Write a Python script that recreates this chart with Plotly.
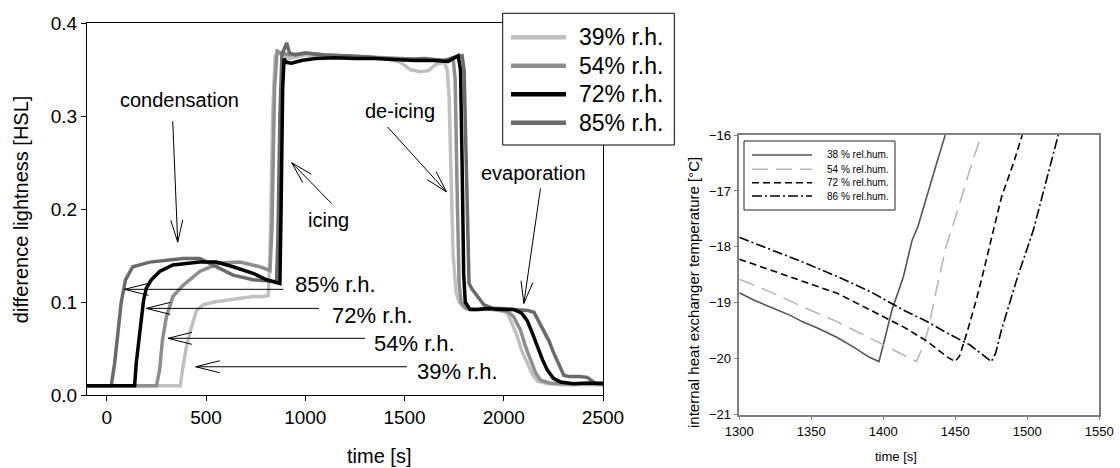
import plotly.graph_objects as go

W, H = 1120, 468
FONT = "Liberation Sans, Arial, sans-serif"

# ---------------- left chart data: difference lightness [HSL] vs time [s]
rh_names = ["39% r.h.", "54% r.h.", "72% r.h.", "85% r.h."]
rh_colors = ["#c0c0c0", "#8e8e8e", "#000000", "#6a6a6a"]

t39 = [-100, 370, 381, 401, 426, 452, 485, 540, 603, 670, 737, 790, 813, 822, 835, 848, 870, 920, 1000,
       1100, 1200, 1300, 1400, 1480, 1530, 1580, 1620, 1660, 1700, 1715, 1725, 1735, 1745, 1760, 1775,
       1800, 1850, 1900, 1950, 2000, 2017, 2040, 2068, 2090, 2118, 2145, 2170, 2220, 2300, 2400, 2500]
v39 = [0.010, 0.010, 0.027, 0.052, 0.073, 0.091, 0.097, 0.100, 0.102, 0.104, 0.106, 0.106, 0.107, 0.150,
       0.300, 0.365, 0.368, 0.362, 0.366, 0.365, 0.364, 0.363, 0.362, 0.358, 0.350, 0.348, 0.349, 0.356,
       0.358, 0.350, 0.320, 0.230, 0.150, 0.110, 0.100, 0.094, 0.092, 0.092, 0.092, 0.090, 0.088, 0.078,
       0.063, 0.048, 0.034, 0.022, 0.015, 0.012, 0.011, 0.011, 0.011]

t54 = [-100, 250, 266, 280, 300, 333, 384, 468, 569, 670, 771, 822, 832, 845, 858, 880, 920, 1000, 1100,
       1200, 1300, 1400, 1500, 1600, 1700, 1745, 1755, 1765, 1775, 1785, 1810, 1850, 1900, 1950, 2000,
       2020, 2050, 2084, 2110, 2134, 2160, 2185, 2230, 2300, 2400, 2500]
v54 = [0.010, 0.010, 0.027, 0.059, 0.084, 0.106, 0.118, 0.133, 0.142, 0.143, 0.138, 0.134, 0.180, 0.330,
       0.370, 0.368, 0.366, 0.368, 0.366, 0.365, 0.364, 0.363, 0.362, 0.361, 0.360, 0.362, 0.340, 0.220,
       0.120, 0.100, 0.093, 0.092, 0.093, 0.092, 0.091, 0.090, 0.084, 0.070, 0.052, 0.038, 0.024, 0.016,
       0.013, 0.012, 0.012, 0.012]

t72 = [-100, 140, 148, 162, 174, 185, 199, 224, 266, 333, 468, 552, 636, 737, 805, 872, 878, 886, 893,
       905, 930, 980, 1050, 1150, 1250, 1350, 1450, 1550, 1650, 1720, 1770, 1782, 1790, 1798, 1806, 1830,
       1870, 1920, 2000, 2050, 2090, 2118, 2145, 2169, 2195, 2219, 2250, 2286, 2350, 2420, 2500]
v72 = [0.010, 0.010, 0.034, 0.059, 0.084, 0.102, 0.115, 0.124, 0.133, 0.140, 0.143, 0.143, 0.138, 0.131,
       0.124, 0.120, 0.200, 0.330, 0.362, 0.358, 0.357, 0.360, 0.362, 0.363, 0.362, 0.362, 0.361, 0.360,
       0.360, 0.359, 0.365, 0.350, 0.250, 0.130, 0.100, 0.092, 0.092, 0.093, 0.092, 0.092, 0.088, 0.080,
       0.066, 0.052, 0.038, 0.027, 0.018, 0.014, 0.012, 0.013, 0.012]

t85 = [-100, 22, 39, 56, 72, 94, 131, 216, 300, 384, 468, 552, 636, 737, 855, 862, 872, 882, 895, 906,
       920, 950, 1000, 1100, 1200, 1300, 1400, 1500, 1600, 1700, 1760, 1790, 1800, 1808, 1816, 1825,
       1840, 1870, 1900, 1950, 2000, 2050, 2120, 2152, 2175, 2202, 2228, 2252, 2278, 2303, 2330, 2380,
       2420, 2440, 2460, 2500]
v85 = [0.010, 0.010, 0.034, 0.070, 0.099, 0.124, 0.138, 0.143, 0.145, 0.147, 0.147, 0.138, 0.129, 0.124,
       0.122, 0.170, 0.300, 0.366, 0.372, 0.379, 0.368, 0.366, 0.368, 0.366, 0.365, 0.364, 0.362, 0.361,
       0.362, 0.360, 0.364, 0.365, 0.350, 0.280, 0.180, 0.120, 0.114, 0.105, 0.097, 0.093, 0.093, 0.092,
       0.091, 0.089, 0.080, 0.070, 0.058, 0.045, 0.032, 0.021, 0.020, 0.020, 0.019, 0.016, 0.013, 0.013]

left_times = [t39, t54, t72, t85]
left_values = [v39, v54, v72, v85]
draw_order = [0, 1, 3, 2]  # black on top

left_xticks = [0, 500, 1000, 1500, 2000, 2500]
left_yticks = [0.0, 0.1, 0.2, 0.3, 0.4]

# ---------------- right chart data: internal heat exchanger temperature [°C]
hum_names = ["38 % rel.hum.", "54 % rel.hum.", "72 % rel.hum.", "86 % rel.hum."]
hum_colors = ["#555555", "#b8b8b8", "#000000", "#000000"]
hum_dash = ["solid", "16px,8px", "7px,4px", "10px,3px,2px,3px"]

r38_t = [1300, 1310, 1321, 1335, 1344, 1355, 1368, 1380, 1390, 1397, 1400, 1406, 1414, 1420, 1424, 1430, 1437, 1443]
r38_T = [-18.82, -18.95, -19.07, -19.22, -19.34, -19.46, -19.62, -19.80, -19.97, -20.05, -19.75, -19.13,
         -18.53, -17.88, -17.64, -17.10, -16.51, -16.0]
r54_t = [1300, 1321, 1344, 1368, 1390, 1410, 1423, 1428, 1431, 1437, 1443.5, 1451, 1460, 1468]
r54_T = [-18.58, -18.80, -19.07, -19.34, -19.62, -19.88, -20.05, -19.75, -19.49, -18.75, -18.0, -17.4,
         -16.63, -16.0]
r72_t = [1300, 1322, 1344, 1368, 1391, 1414, 1430, 1445, 1450, 1453, 1458.6, 1464, 1469.5, 1474,
         1477.6, 1482.2, 1490.3, 1496.5]
r72_T = [-18.22, -18.42, -18.62, -18.83, -19.13, -19.43, -19.68, -19.98, -20.05, -19.95, -19.49, -19.0,
         -18.45, -17.95, -17.58, -17.10, -16.51, -16.0]
r86_t = [1300, 1322, 1344, 1368, 1391, 1414, 1430, 1445, 1460, 1475, 1478, 1482, 1492.6, 1504.2, 1513.5, 1521.5]
r86_T = [-17.83, -18.05, -18.27, -18.53, -18.80, -19.13, -19.33, -19.55, -19.75, -20.05, -19.9, -19.49,
         -18.59, -17.7, -16.81, -16.0]

right_times = [r38_t, r54_t, r72_t, r86_t]
right_values = [r38_T, r54_T, r72_T, r86_T]
right_xticks = [1300, 1350, 1400, 1450, 1500, 1550]
right_yticks = [-21, -20, -19, -18, -17, -16]

# ---------------- geometry (pixels)
L_X0, L_X1, L_Y0, L_Y1 = 87, 603, 23.3, 395      # left plot area
R_X0, R_X1, R_Y0, R_Y1 = 739.3, 1099.3, 135, 414.7  # right plot area
L_XR, L_YR = [-100, 2500], [0, 0.4]
R_XR, R_YR = [1300, 1550], [-21, -16]


def px(x):
    return x / W


def py(y):
    return 1 - y / H


fig = go.Figure()

for i in draw_order:
    fig.add_trace(go.Scatter(x=left_times[i], y=left_values[i], mode="lines", name=rh_names[i],
                             line=dict(color=rh_colors[i], width=3.5), xaxis="x", yaxis="y",
                             showlegend=False))

for i in range(4):
    fig.add_trace(go.Scatter(x=right_times[i], y=right_values[i], mode="lines", name=hum_names[i],
                             line=dict(color=hum_colors[i], width=1.6, dash=hum_dash[i]),
                             xaxis="x2", yaxis="y2", showlegend=False))

shapes = []
annotations = []

# --- arrows in the left chart (data coordinates), V heads computed in pixel space
sx = (L_X1 - L_X0) / (L_XR[1] - L_XR[0])
sy = (L_Y1 - L_Y0) / (L_YR[1] - L_YR[0])


def arrow(tail, tip, head_len=22, head_w=6):
    shapes.append(dict(type="line", xref="x", yref="y", x0=tail[0], y0=tail[1], x1=tip[0], y1=tip[1],
                       line=dict(color="black", width=1)))
    dx = (tip[0] - tail[0]) * sx
    dy = -(tip[1] - tail[1]) * sy
    n = (dx * dx + dy * dy) ** 0.5
    ux, uy = dx / n, dy / n
    for s in (1, -1):
        hx = -ux * head_len + s * (-uy) * head_w
        hy = -uy * head_len + s * ux * head_w
        shapes.append(dict(type="line", xref="x", yref="y", x0=tip[0], y0=tip[1],
                           x1=tip[0] + hx / sx, y1=tip[1] - hy / sy,
                           line=dict(color="black", width=1)))


phase_labels = ["condensation", "icing", "de-icing", "evaporation"]
phase_text_pos = [(368, 0.318), (1115, 0.188), (1478, 0.306), (2150, 0.2387)]
phase_tail = [(332, 0.2946), (1133, 0.206), (1414, 0.2885), (2185, 0.2223)]
phase_tip = [(357, 0.1645), (931, 0.250), (1711, 0.2186), (2101, 0.0986)]
for lab, pos, tl, tp in zip(phase_labels, phase_text_pos, phase_tail, phase_tip):
    annotations.append(dict(text=lab, x=pos[0], y=pos[1], xref="x", yref="y", showarrow=False,
                            font=dict(size=20, color="black", family=FONT)))
    arrow(tl, tp)

rh_text_x = [1554, 1335, 1125, 936]
rh_text_y = [0.025, 0.0559, 0.086, 0.1194]
rh_line_y = [0.0304, 0.061, 0.0932, 0.1137]
rh_line_from = [1512, 1301, 1069, 889]
rh_line_to = [448, 308, 199, 89]
for i in range(4):
    annotations.append(dict(text=rh_names[i], x=rh_text_x[i], y=rh_text_y[i], xref="x", yref="y",
                            xanchor="left", showarrow=False, font=dict(size=22, color="black", family=FONT)))
    arrow((rh_line_from[i], rh_line_y[i]), (rh_line_to[i], rh_line_y[i]), head_len=24, head_w=6)

# --- left legend box
shapes.append(dict(type="rect", xref="paper", yref="paper", x0=px(502.7), x1=px(674.3), y0=py(145),
                   y1=py(13.3), line=dict(color="black", width=1), fillcolor="white", layer="above"))
leg_y = [37.3, 65.7, 94.3, 122.7]
for i in range(4):
    shapes.append(dict(type="line", xref="paper", yref="paper", x0=px(511), x1=px(566), y0=py(leg_y[i]),
                       y1=py(leg_y[i]), line=dict(color=rh_colors[i], width=4.5), layer="above"))
    annotations.append(dict(text=rh_names[i], x=px(577), y=py(leg_y[i]), xref="paper", yref="paper",
                            xanchor="left", yanchor="middle", showarrow=False,
                            font=dict(size=23, color="black", family=FONT)))

# --- right legend box
shapes.append(dict(type="rect", xref="paper", yref="paper", x0=px(744), x1=px(895), y0=py(210),
                   y1=py(141), line=dict(color="#222222", width=1), fillcolor="white", layer="above"))
rleg_y = [155, 169.3, 182.7, 196]
for i in range(4):
    shapes.append(dict(type="line", xref="paper", yref="paper", x0=px(752), x1=px(812), y0=py(rleg_y[i]),
                       y1=py(rleg_y[i]), line=dict(color=hum_colors[i], width=1.6, dash=hum_dash[i]),
                       layer="above"))
    annotations.append(dict(text=hum_names[i], x=px(825), y=py(rleg_y[i]), xref="paper", yref="paper",
                            xanchor="left", yanchor="middle", showarrow=False,
                            font=dict(size=10, color="black", family=FONT)))

# --- axis titles
annotations.append(dict(text="time [s]", x=px((L_X0 + L_X1) / 2), y=py(456), xref="paper", yref="paper",
                        showarrow=False, yanchor="middle", font=dict(size=20, color="black", family=FONT)))
annotations.append(dict(text="difference lightness [HSL]", x=px(21), y=py((L_Y0 + L_Y1) / 2), xref="paper",
                        yref="paper", showarrow=False, textangle=-90, xanchor="center", yanchor="middle",
                        font=dict(size=20, color="black", family=FONT)))
annotations.append(dict(text="time [s]", x=px((R_X0 + R_X1) / 2), y=py(456), xref="paper", yref="paper",
                        showarrow=False, yanchor="middle", font=dict(size=13, color="black", family=FONT)))
annotations.append(dict(text="internal heat exchanger temperature [°C]", x=px(693), y=py(293), xref="paper",
                        yref="paper", showarrow=False, textangle=-90, xanchor="center", yanchor="middle",
                        font=dict(size=15, color="black", family=FONT)))

common = dict(showgrid=False, zeroline=False, automargin=False, showline=True, mirror=True, ticks="outside")
fig.update_layout(
    template="none",
    width=W, height=H, margin=dict(l=0, r=0, t=0, b=0, pad=0, autoexpand=False),
    paper_bgcolor="white", plot_bgcolor="white",
    font=dict(family=FONT, color="black"),
    showlegend=False,
    shapes=shapes, annotations=annotations,
    xaxis=dict(domain=[px(L_X0), px(L_X1)], range=L_XR, tickvals=left_xticks, ticklen=5,
               tickcolor="black", linecolor="black", linewidth=1, tickfont=dict(size=19), anchor="y", **common),
    yaxis=dict(domain=[py(L_Y1), py(L_Y0)], range=L_YR, tickvals=left_yticks, tickformat=".1f",
               ticklen=5, tickcolor="black", linecolor="black", linewidth=1, tickfont=dict(size=19),
               anchor="x", **common),
    xaxis2=dict(domain=[px(R_X0), px(R_X1)], range=R_XR, tickvals=right_xticks, ticklen=4,
                tickcolor="#808080", linecolor="#808080", linewidth=1.5, tickfont=dict(size=13),
                anchor="y2", **common),
    yaxis2=dict(domain=[py(R_Y1), py(R_Y0)], range=R_YR, tickvals=right_yticks, ticklen=4,
                tickcolor="#808080", linecolor="#808080", linewidth=1.5, tickfont=dict(size=13),
                anchor="x2", **common),
)

fig.write_html("out.html")
